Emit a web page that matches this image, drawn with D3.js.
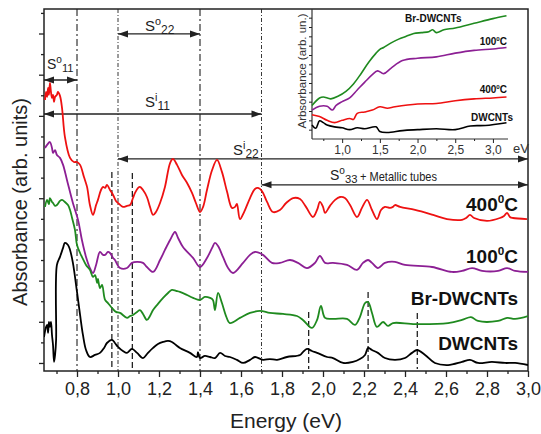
<!DOCTYPE html>
<html><head><meta charset="utf-8">
<script src="https://cdn.jsdelivr.net/npm/d3@7"></script>
<style>html,body{margin:0;padding:0;background:#fff;} svg{display:block;font-family:Arial,"Liberation Sans",Helvetica,sans-serif;}</style>
</head><body><svg id="c" width="541" height="434"></svg>
<script>
// ---------- DATA ----------
const energyMajor = [0.8,1.0,1.2,1.4,1.6,1.8,2.0,2.2,2.4,2.6,2.8,3.0];
const energyLabels = ["0,8","1,0","1,2","1,4","1,6","1,8","2,0","2,2","2,4","2,6","2,8","3,0"];
const energyMinor = [0.7,0.9,1.1,1.3,1.5,1.7,1.9,2.1,2.3,2.5,2.7,2.9];
const absTicks = d3.range(0,18);

const red400 = [[0.644,12.77],[0.649,13.16],[0.654,12.92],[0.659,13.36],[0.663,13.02],[0.668,13.60],[0.673,13.16],[0.678,12.87],[0.683,13.02],[0.688,12.68],[0.693,12.92],[0.702,13.02],[0.707,13.16],[0.717,12.97],[0.727,12.38],[0.741,10.98],[0.766,9.96],[0.785,9.76],[0.800,9.76],[0.815,9.62],[0.834,9.03],[0.849,8.55],[0.863,7.67],[0.878,7.19],[0.893,7.67],[0.902,7.92],[0.917,8.40],[0.927,8.55],[0.937,8.50],[0.946,8.65],[0.961,8.40],[0.976,8.16],[0.990,7.87],[1.000,7.77],[1.024,7.58],[1.044,7.63],[1.059,7.67],[1.073,8.01],[1.083,8.26],[1.098,8.50],[1.107,8.55],[1.122,8.40],[1.141,8.06],[1.156,7.58],[1.171,7.19],[1.185,7.33],[1.205,7.77],[1.229,8.55],[1.254,9.71],[1.268,9.91],[1.288,9.62],[1.312,9.13],[1.337,8.74],[1.361,8.26],[1.380,7.77],[1.400,7.33],[1.415,7.58],[1.434,8.40],[1.459,9.37],[1.483,9.86],[1.507,9.28],[1.532,8.31],[1.556,7.53],[1.571,7.58],[1.580,7.72],[1.595,6.99],[1.615,7.33],[1.644,8.01],[1.668,8.45],[1.683,8.50],[1.702,8.35],[1.727,7.82],[1.756,7.33],[1.790,7.43],[1.820,7.77],[1.854,8.01],[1.888,7.96],[1.917,7.58],[1.951,7.09],[1.971,7.43],[1.985,7.82],[2.000,7.58],[2.010,7.29],[2.034,7.63],[2.059,7.92],[2.083,8.06],[2.107,8.01],[2.132,7.67],[2.166,7.09],[2.190,7.53],[2.215,7.92],[2.239,7.43],[2.263,6.99],[2.283,7.43],[2.302,7.58],[2.327,7.53],[2.341,7.58],[2.351,7.67],[2.376,7.58],[2.449,7.43],[2.537,7.19],[2.605,6.99],[2.678,6.95],[2.698,7.04],[2.717,7.19],[2.737,7.04],[2.800,6.90],[2.863,7.04],[2.883,7.14],[2.898,7.29],[2.912,7.09],[2.927,7.04],[2.995,6.99]];

const purple100 = [[0.644,10.44],[0.654,10.59],[0.668,10.73],[0.678,10.44],[0.683,10.20],[0.693,10.34],[0.702,10.10],[0.717,9.96],[0.732,9.62],[0.751,8.89],[0.780,7.77],[0.805,6.95],[0.824,5.97],[0.844,5.15],[0.863,4.61],[0.878,4.37],[0.893,4.76],[0.912,5.39],[0.927,5.25],[0.937,5.25],[0.951,5.39],[0.961,5.34],[0.976,5.10],[0.985,5.00],[1.010,4.61],[1.044,4.61],[1.068,4.86],[1.093,4.91],[1.122,4.86],[1.141,4.66],[1.171,4.42],[1.205,5.00],[1.229,5.49],[1.254,5.97],[1.278,6.36],[1.293,6.07],[1.317,5.63],[1.366,5.10],[1.400,4.66],[1.434,5.10],[1.459,5.59],[1.473,5.83],[1.488,5.68],[1.512,5.15],[1.537,4.61],[1.561,4.37],[1.610,4.86],[1.644,5.25],[1.668,5.39],[1.707,5.25],[1.751,4.86],[1.790,4.86],[1.839,5.00],[1.878,4.86],[1.922,4.61],[1.961,4.86],[1.985,5.20],[2.010,4.86],[2.049,4.86],[2.117,4.76],[2.166,4.52],[2.195,4.86],[2.220,5.00],[2.239,4.86],[2.268,4.61],[2.302,4.86],[2.351,4.91],[2.400,4.76],[2.532,4.66],[2.629,4.42],[2.678,4.47],[2.727,4.61],[2.776,4.47],[2.854,4.47],[2.898,4.61],[2.937,4.47],[3.000,4.42]];

const greenBr = [[0.644,7.58],[0.654,7.92],[0.663,7.72],[0.668,8.01],[0.678,7.82],[0.683,7.77],[0.693,7.63],[0.702,7.67],[0.717,7.87],[0.727,7.92],[0.741,7.82],[0.756,7.67],[0.766,7.43],[0.776,7.04],[0.790,6.46],[0.800,5.73],[0.815,5.34],[0.824,5.15],[0.844,4.76],[0.863,4.52],[0.878,4.18],[0.888,4.27],[0.898,3.89],[0.902,4.08],[0.912,3.64],[0.922,3.79],[0.937,3.06],[0.951,2.91],[0.971,2.67],[0.990,2.48],[1.010,2.43],[1.044,2.19],[1.059,2.28],[1.073,2.33],[1.093,2.48],[1.107,2.57],[1.122,2.38],[1.141,2.09],[1.156,2.28],[1.171,2.57],[1.195,2.87],[1.220,3.16],[1.244,3.40],[1.263,3.55],[1.283,3.50],[1.302,3.45],[1.337,3.30],[1.366,3.16],[1.400,3.06],[1.424,3.21],[1.449,3.16],[1.463,3.06],[1.473,2.57],[1.488,3.40],[1.507,2.91],[1.527,2.28],[1.546,1.94],[1.595,2.19],[1.644,2.43],[1.693,2.53],[1.741,2.43],[1.805,2.38],[1.873,2.28],[1.902,2.09],[1.946,1.70],[1.971,2.09],[1.990,2.77],[2.010,2.19],[2.049,2.14],[2.117,2.14],[2.156,1.85],[2.180,2.23],[2.205,2.91],[2.220,2.96],[2.239,2.43],[2.263,1.75],[2.293,1.99],[2.317,1.80],[2.341,1.94],[2.449,1.89],[2.610,1.94],[2.678,2.09],[2.722,2.23],[2.756,2.04],[2.854,2.04],[2.898,2.19],[2.937,2.14],[3.000,2.28]];

const blackDW = [[0.639,1.26],[0.649,1.75],[0.654,1.85],[0.659,1.46],[0.663,1.99],[0.668,1.75],[0.673,1.99],[0.678,1.36],[0.683,0.87],[0.688,0.05],[0.693,0.39],[0.698,1.12],[0.702,4.76],[0.717,5.15],[0.732,5.59],[0.741,5.83],[0.756,5.73],[0.766,5.49],[0.780,4.86],[0.800,3.45],[0.815,2.33],[0.829,1.36],[0.844,0.63],[0.863,0.29],[0.888,0.39],[0.912,0.49],[0.932,0.73],[0.946,0.97],[0.971,1.12],[0.985,0.97],[1.000,0.78],[1.024,0.58],[1.044,0.49],[1.068,0.68],[1.093,0.49],[1.122,0.24],[1.146,0.49],[1.171,0.73],[1.195,0.92],[1.220,1.02],[1.244,1.07],[1.263,1.02],[1.283,0.87],[1.302,0.73],[1.351,0.49],[1.385,0.29],[1.390,0.53],[1.400,0.24],[1.424,0.34],[1.449,0.29],[1.473,0.24],[1.498,0.49],[1.522,0.34],[1.546,0.29],[1.580,0.15],[1.610,0.00],[1.644,0.15],[1.668,0.29],[1.707,0.15],[1.741,0.19],[1.776,0.15],[1.824,0.29],[1.888,0.39],[1.902,0.53],[1.922,0.68],[1.946,0.58],[1.971,0.49],[2.020,0.29],[2.049,0.24],[2.098,0.00],[2.146,0.05],[2.180,0.19],[2.205,0.39],[2.220,0.73],[2.239,0.63],[2.268,0.49],[2.302,0.24],[2.351,0.15],[2.400,0.24],[2.434,0.49],[2.459,0.63],[2.498,0.39],[2.546,0.00],[2.610,-0.10],[2.678,0.05],[2.717,0.15],[2.756,0.00],[2.824,0.05],[2.888,0.00],[2.937,0.00],[3.000,-0.10]];

const seriesNames = ["400","100","Br-DWCNTs","DWCNTs"];
const seriesColors = ["#ee1111","#8c1f94","#1f8a1f","#000000"];

// inset
const insetMajor = [1.0,1.5,2.0,2.5,3.0];
const insetLabels = ["1,0","1,5","2,0","2,5","3,0"];
const insetMinor = [0.75,1.25,1.75,2.25,2.75];
const insetYTicks = d3.range(1,14);
const insetBr = [[0.6,3.6],[0.7,4.4],[0.75,4.5],[0.85,4.3],[0.95,4.6],[1.05,5.1],[1.15,5.9],[1.25,7.0],[1.35,8.2],[1.45,9.2],[1.5,9.6],[1.55,9.8],[1.65,10.3],[1.75,10.7],[1.85,11.0],[1.95,11.3],[2.05,11.4],[2.15,11.5],[2.2,11.7],[2.25,11.4],[2.35,11.7],[2.5,11.9],[2.75,12.4],[3.0,12.9],[3.18,13.2]];
const inset100 = [[0.6,3.1],[0.7,3.5],[0.8,3.5],[0.87,3.1],[0.92,3.6],[1.0,4.0],[1.1,4.4],[1.2,5.25],[1.3,6.1],[1.4,6.9],[1.47,7.3],[1.55,7.0],[1.65,7.6],[1.8,8.4],[2.0,8.65],[2.25,8.8],[2.5,9.2],[2.75,9.5],[3.0,9.65],[3.18,9.8]];
const inset400 = [[0.6,2.6],[0.7,2.4],[0.8,2.0],[0.9,1.75],[1.0,2.0],[1.1,2.2],[1.15,2.1],[1.2,2.75],[1.3,2.9],[1.4,3.1],[1.5,3.45],[1.6,3.3],[1.7,3.45],[2.0,3.75],[2.25,3.8],[2.5,4.1],[2.75,4.3],[3.0,4.4],[3.18,4.5]];
const insetDW = [[0.6,1.5],[0.65,1.15],[0.7,1.95],[0.75,1.75],[0.8,1.5],[0.9,1.3],[1.0,1.2],[1.1,1.0],[1.2,1.2],[1.3,1.1],[1.45,1.3],[1.5,0.8],[1.6,0.7],[1.8,0.9],[2.0,1.0],[2.25,1.1],[2.5,1.0],[2.7,1.4],[2.9,1.45],[3.18,1.75]];

// annotations
const dashDotLines = [0.8,1.0,1.4,1.7];
const dashedMarks = [[0.97,9.28],[1.07,9.23],[1.93,2.48],[2.22,3.45],[2.46,2.43]];
const arrows = [ // [from, to, level]
  [null,0.8,13.74],[1.0,1.4,15.98],[null,1.7,12.09],[1.0,3.0,9.91],[1.7,3.0,8.65]
];

// ---------- CHART ----------
const svg = d3.select("#c");
const L=44,R=528,T=9,B=371;
const x = d3.scaleLinear().domain([0.639,3.0]).range([L,R]);
const y = d3.scaleLinear().domain([-0.39,17.19]).range([B,T]);

// frame
svg.append("rect").attr("x",L).attr("y",T).attr("width",R-L).attr("height",B-T)
  .attr("fill","none").attr("stroke","#222").attr("stroke-width",1.5);

// axes
function styleAxis(g){ g.select(".domain").remove(); g.selectAll("line").attr("stroke","#222").attr("stroke-width",1.3); }
svg.append("g").attr("transform",`translate(0,${B})`)
  .call(d3.axisBottom(x).tickValues(energyMajor).tickFormat((d,i)=>energyLabels[i]).tickSize(6).tickPadding(5).tickSizeOuter(0))
  .call(styleAxis)
  .call(g=>g.selectAll("text").attr("font-size",18).attr("fill","#222").attr("font-family","Arial, 'Liberation Sans', sans-serif"));
svg.append("g").attr("transform",`translate(0,${B})`)
  .call(d3.axisBottom(x).tickValues(energyMinor).tickFormat("").tickSize(3).tickSizeOuter(0)).call(styleAxis);
svg.append("g").attr("transform",`translate(${L},0)`)
  .call(d3.axisLeft(y).tickValues(absTicks.filter(d=>d%2===0)).tickFormat("").tickSize(5).tickSizeOuter(0)).call(styleAxis);
svg.append("g").attr("transform",`translate(${L},0)`)
  .call(d3.axisLeft(y).tickValues(absTicks.filter(d=>d%2===1)).tickFormat("").tickSize(3).tickSizeOuter(0)).call(styleAxis);

// axis titles
svg.append("text").attr("x",286).attr("y",428).attr("text-anchor","middle")
  .attr("font-size",21).attr("fill","#222").text("Energy (eV)");
svg.append("text").attr("transform","translate(27,202) rotate(-90)").attr("text-anchor","middle")
  .attr("font-size",20).attr("fill","#222").text("Absorbance (arb. units)");

// vertical reference lines
dashDotLines.forEach((e,i)=>{
  svg.append("line").attr("x1",x(e)).attr("x2",x(e)).attr("y1",T).attr("y2",B)
    .attr("stroke","#222").attr("stroke-width",(e===1.0||e===1.7)?0.9:1.1)
    .attr("stroke-dasharray",(e===1.0||e===1.7)?"4,2,1,2":"7,3,2,3");
});
dashedMarks.forEach(([e,top])=>{
  svg.append("line").attr("x1",x(e)).attr("x2",x(e)).attr("y1",y(top)).attr("y2",B-2)
    .attr("stroke","#222").attr("stroke-width",1.3).attr("stroke-dasharray","6,3");
});

// arrows
function arrowHead(px,py,dir){ // dir -1 left, +1 right
  const len=10, hw=3.5;
  svg.append("path").attr("d",`M${px},${py} L${px-dir*len},${py-hw} L${px-dir*len},${py+hw} Z`).attr("fill","#222");
}
arrows.forEach(([a,b,lv])=>{
  const x1 = a===null? L : x(a), x2 = x(b), yy = y(lv);
  svg.append("line").attr("x1",x1).attr("x2",x2).attr("y1",yy).attr("y2",yy).attr("stroke","#222").attr("stroke-width",1.4);
  arrowHead(x1,yy,-1); arrowHead(x2,yy,1);
});

// annotation labels
function sLabel(px,py,sup,sub,fs){
  const t = svg.append("text").attr("x",px).attr("y",py).attr("font-size",fs).attr("fill","#222");
  t.append("tspan").text("S");
  t.append("tspan").attr("font-size",fs*0.72).attr("dy",-6).text(sup);
  t.append("tspan").attr("font-size",fs*0.8).attr("dy",9).text(sub);
  return t;
}
sLabel(47,69,"o","11",14);
sLabel(145,31,"o","22",15);
sLabel(145,107,"i","11",15);
sLabel(233,155,"i","22",15);
sLabel(330,180,"o","33",14);
svg.append("text").attr("x",360).attr("y",181).attr("font-size",13).attr("fill","#222")
  .attr("textLength",77).attr("lengthAdjust","spacingAndGlyphs").text("+ Metallic tubes");

// curves
const clip = svg.append("clipPath").attr("id","pc").append("rect").attr("x",L).attr("y",T).attr("width",R-L).attr("height",B-T);
const line = d3.line().x(d=>x(d[0])).y(d=>y(d[1])).curve(d3.curveCatmullRom.alpha(0.5));
[red400,purple100,greenBr,blackDW].forEach((s,i)=>{
  svg.append("path").datum(s).attr("d",line).attr("fill","none").attr("clip-path","url(#pc)")
    .attr("stroke",seriesColors[i]).attr("stroke-width",1.8).attr("stroke-linejoin","round");
});

// right labels
function tempLabel(px,py,num,fs,anchor){
  const t = svg.append("text").attr("x",px).attr("y",py).attr("text-anchor",anchor).attr("font-size",fs).attr("font-weight","bold").attr("fill","#111");
  t.append("tspan").text(num);
  t.append("tspan").attr("font-size",fs*0.62).attr("dy",-fs*0.42).text("0");
  t.append("tspan").attr("dy",fs*0.42).text("C");
}
tempLabel(518,211,seriesNames[0],19,"end");
tempLabel(518,263,seriesNames[1],19,"end");
svg.append("text").attr("x",518).attr("y",305).attr("text-anchor","end").attr("font-size",19).attr("font-weight","bold").attr("fill","#111").text(seriesNames[2]);
svg.append("text").attr("x",518).attr("y",350).attr("text-anchor","end").attr("font-size",19).attr("font-weight","bold").attr("fill","#111").text(seriesNames[3]);

// ---------- INSET ----------
const IL=312, IR=508, IT=9, IB=139;
const ix = d3.scaleLinear().domain([0.6,3.2]).range([IL,IR]);
const iy = d3.scaleLinear().domain([0,13.5]).range([IB,13]);
svg.append("line").attr("x1",IL).attr("x2",IL).attr("y1",IT).attr("y2",IB).attr("stroke","#333").attr("stroke-width",1.2);
svg.append("line").attr("x1",IL).attr("x2",IR).attr("y1",IB).attr("y2",IB).attr("stroke","#333").attr("stroke-width",1.2);
svg.append("g").attr("transform",`translate(0,${IB})`)
  .call(d3.axisBottom(ix).tickValues(insetMajor).tickFormat((d,i)=>insetLabels[i]).tickSize(4).tickPadding(2).tickSizeOuter(0))
  .call(styleAxis)
  .call(g=>g.selectAll("text").attr("font-size",12).attr("fill","#333").attr("font-family","Arial, 'Liberation Sans', sans-serif"))
  .call(g=>g.selectAll("line").attr("stroke-width",1));
svg.append("g").attr("transform",`translate(0,${IB})`)
  .call(d3.axisBottom(ix).tickValues(insetMinor).tickFormat("").tickSize(2).tickSizeOuter(0)).call(styleAxis)
  .call(g=>g.selectAll("line").attr("stroke-width",1));
svg.append("g").attr("transform",`translate(${IL},0)`)
  .call(d3.axisLeft(iy).tickValues(insetYTicks).tickFormat("").tickSize(3).tickSizeOuter(0)).call(styleAxis)
  .call(g=>g.selectAll("line").attr("stroke-width",1));
svg.append("text").attr("x",513).attr("y",153).attr("font-size",13).attr("fill","#333").text("eV");
svg.append("text").attr("transform","translate(306,71) rotate(-90)").attr("text-anchor","middle")
  .attr("font-size",11.5).attr("fill","#333").text("Arbsorbance (arb. un.)");
const iline = d3.line().x(d=>ix(d[0])).y(d=>iy(d[1])).curve(d3.curveCatmullRom.alpha(0.5));
[inset400,inset100,insetBr,insetDW].forEach((s,i)=>{
  svg.append("path").datum(s).attr("d",iline).attr("fill","none")
    .attr("stroke",seriesColors[i]).attr("stroke-width",1.6);
});
svg.append("text").attr("x",405).attr("y",22).attr("font-size",10).attr("font-weight","bold").attr("fill","#111").text(seriesNames[2]);
tempLabel(507,45,seriesNames[1],10,"end");
tempLabel(507,93,seriesNames[0],10,"end");
svg.append("text").attr("x",513).attr("y",121).attr("text-anchor","end").attr("font-size",10).attr("font-weight","bold").attr("fill","#111").text(seriesNames[3]);
</script>
</body></html>
